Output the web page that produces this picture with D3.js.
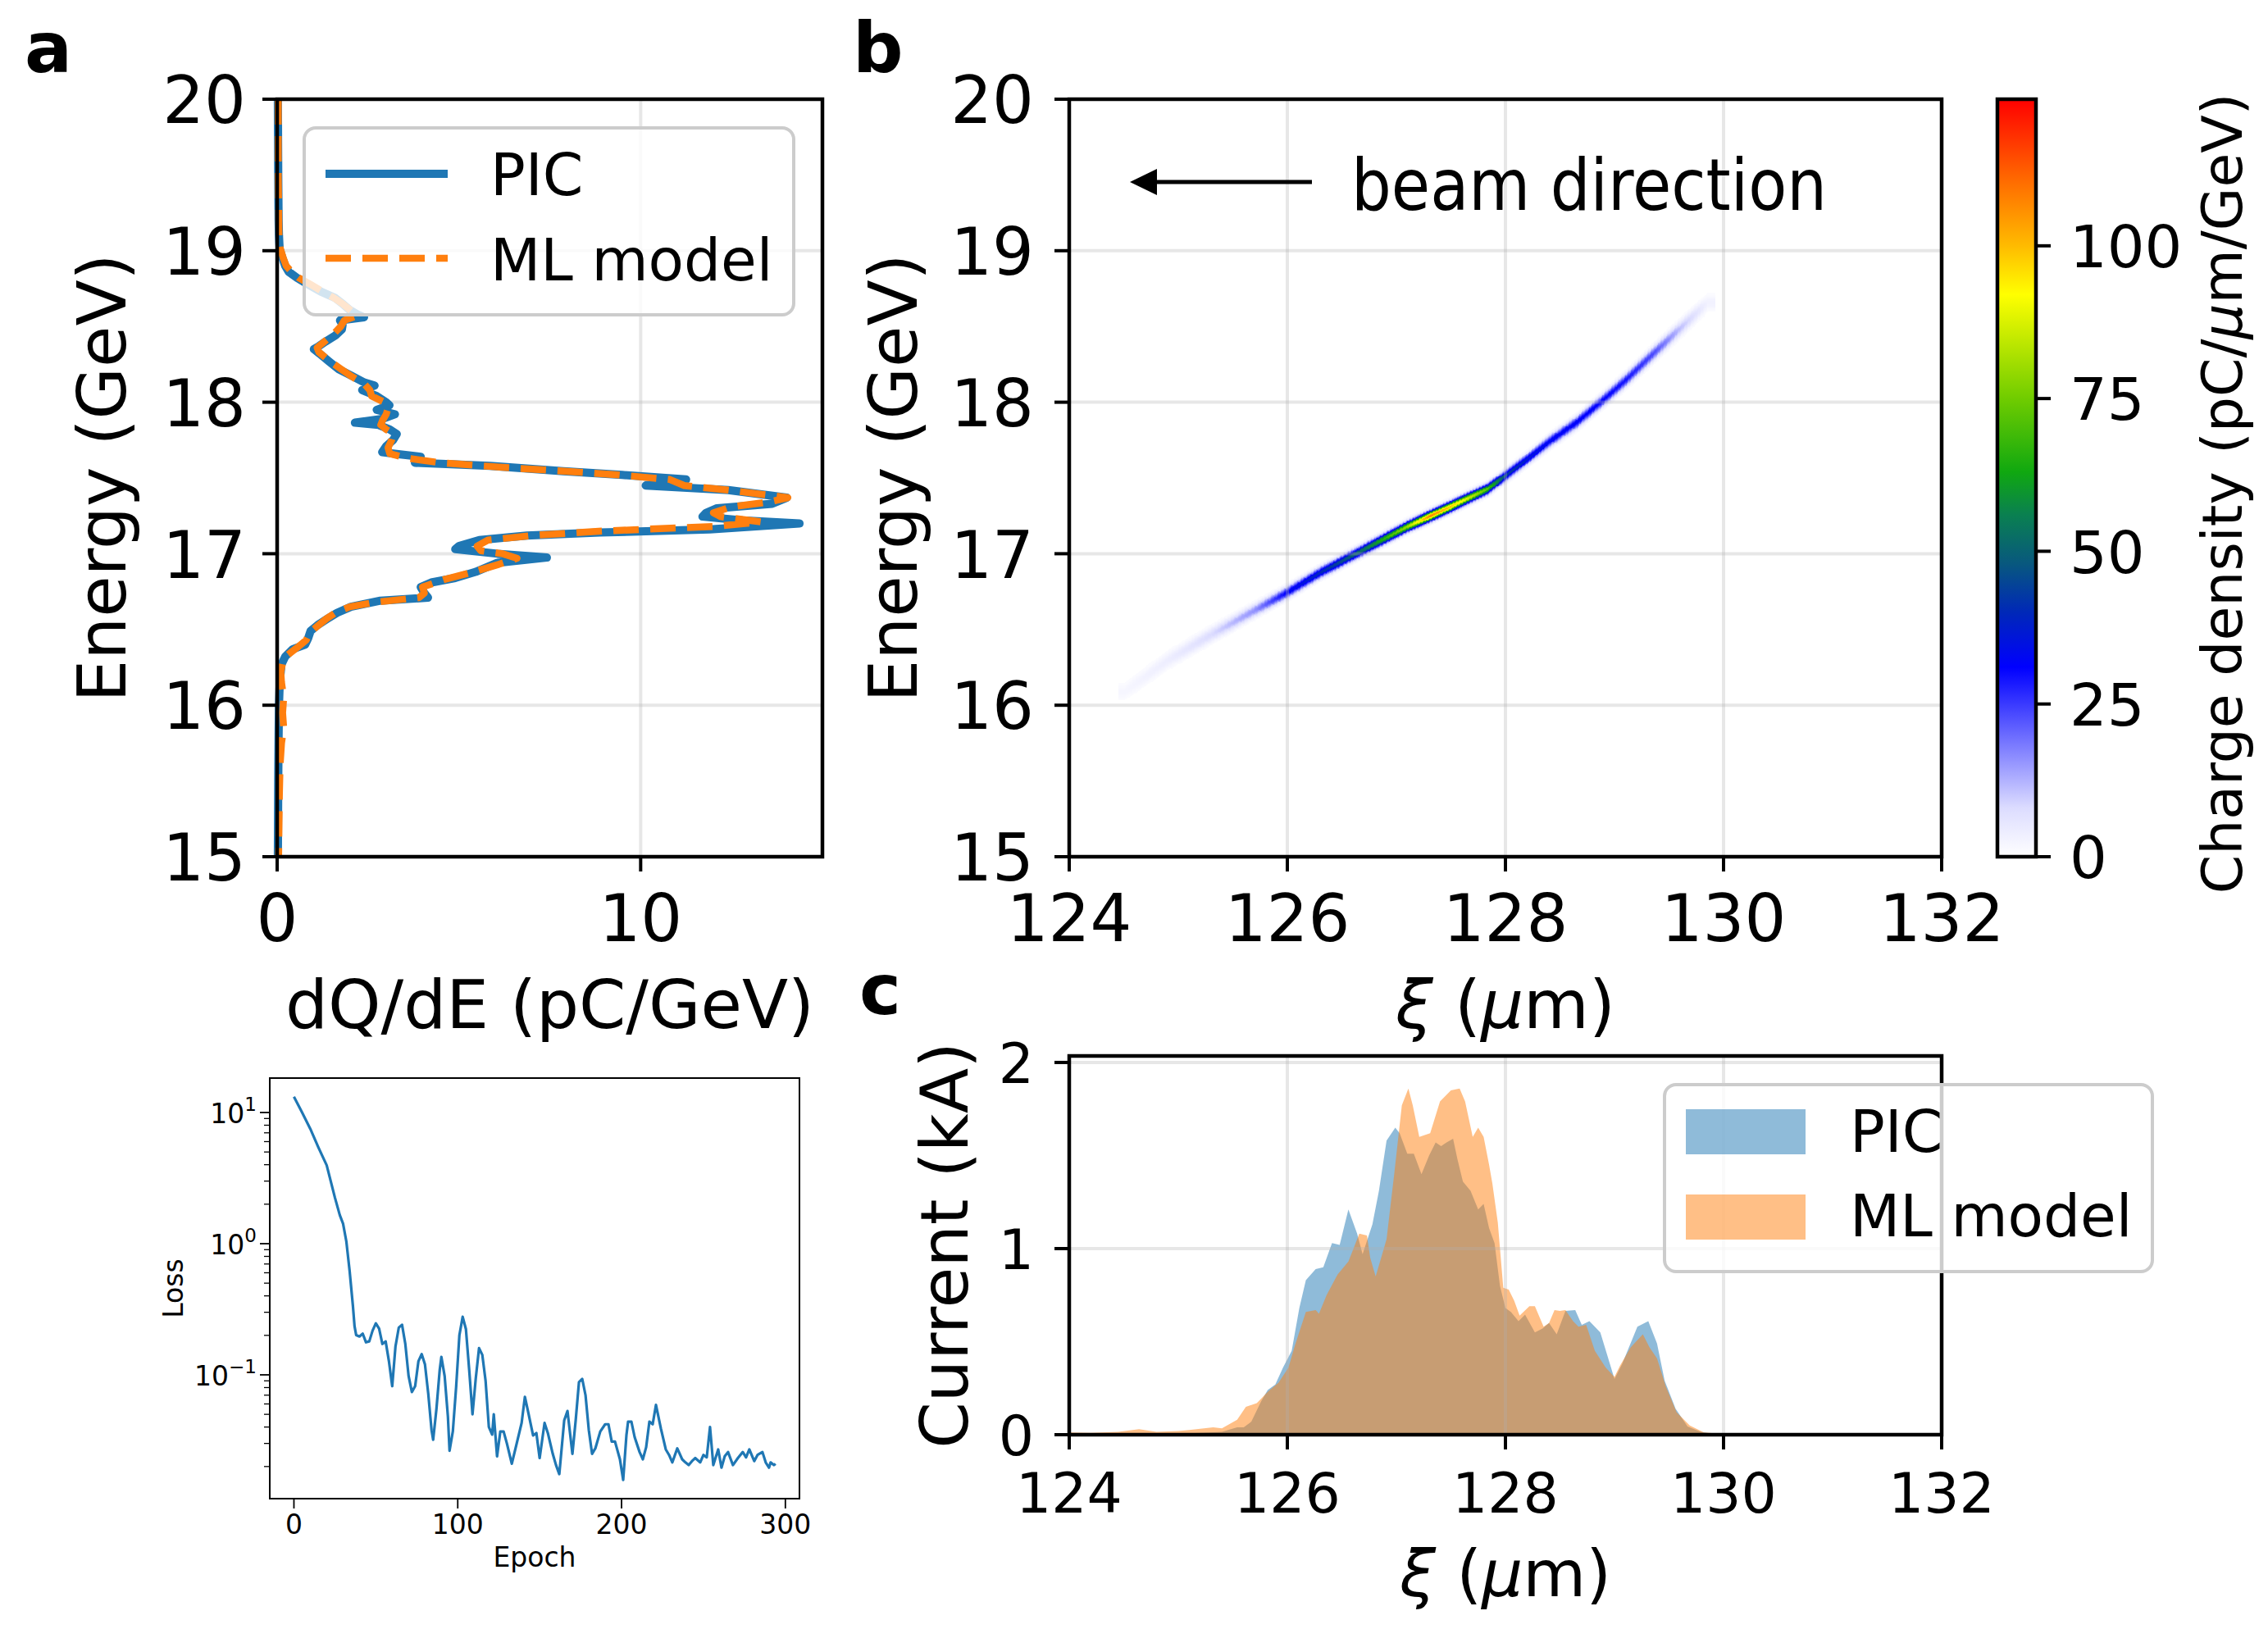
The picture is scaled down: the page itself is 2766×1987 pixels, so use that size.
<!DOCTYPE html>
<html><head><meta charset="utf-8">
<script src="https://cdn.jsdelivr.net/npm/d3@7"></script>
<style>body{margin:0;background:#fff;} text{font-family:"DejaVu Sans";}</style>
</head><body><svg id="chart" width="2766" height="1987"></svg>
<script>
// ---------------- DATA ----------------
// panel a : energy spectrum dQ/dE
const energyTicks = [15,16,17,18,19,20];
const dqdeTicks = [0,10];
const picEnergy = [20.0,19.5,19.2,19.1,19.05,19.01,18.95,18.9,18.86,18.82,18.78,18.73,18.69,18.65,18.61,18.58,18.56,18.54,18.51,18.48,18.44,18.40,18.37,18.35,18.32,18.27,18.22,18.17,18.13,18.11,18.08,18.04,18.00,17.98,17.95,17.92,17.89,17.865,17.85,17.82,17.79,17.75,17.71,17.67,17.66,17.64,17.61,17.60,17.58,17.545,17.52,17.49,17.47,17.45,17.42,17.37,17.33,17.30,17.27,17.245,17.22,17.20,17.16,17.14,17.12,17.09,17.05,17.03,17.00,16.975,16.94,16.88,16.84,16.81,16.78,16.74,16.71,16.69,16.65,16.61,16.57,16.53,16.49,16.44,16.40,16.37,16.32,16.27,16.20,16.14,16.0,15.8,15.5,15.0];
const picDqdE = [0.02,0.03,0.04,0.05,0.06,0.07,0.15,0.22,0.32,0.55,0.83,1.2,1.58,1.8,1.99,2.2,2.39,1.73,1.8,1.78,1.6,1.33,1.15,1.01,1.17,1.42,1.68,2.08,2.4,2.68,2.34,2.74,3.0,3.09,2.74,3.24,2.89,2.14,2.79,3.1,3.29,3.19,3.0,2.89,3.24,3.95,3.85,3.79,5.86,7.87,9.49,11.25,10.3,10.14,12.41,14.02,13.62,12.10,11.8,11.70,12.8,14.37,11.90,8.88,6.87,5.56,5.0,4.90,6.06,7.42,6.06,5.46,4.9,4.24,3.95,4.05,4.15,2.84,2.03,1.65,1.38,1.12,0.92,0.85,0.77,0.43,0.22,0.12,0.09,0.07,0.05,0.04,0.03,0.02];
const mlEnergy = [20.0,19.5,19.1,19.02,18.95,18.9,18.86,18.82,18.78,18.73,18.69,18.65,18.61,18.57,18.54,18.50,18.45,18.40,18.36,18.33,18.27,18.22,18.17,18.12,18.08,18.04,18.00,17.96,17.92,17.88,17.85,17.82,17.79,17.75,17.70,17.66,17.63,17.60,17.57,17.545,17.52,17.49,17.45,17.42,17.37,17.34,17.31,17.27,17.245,17.21,17.18,17.15,17.12,17.09,17.05,17.02,17.00,16.97,16.93,16.88,16.83,16.78,16.74,16.71,16.68,16.65,16.61,16.57,16.52,16.48,16.43,16.38,16.33,16.28,16.22,16.15,16.05,15.95,15.85,15.75,15.6,15.4,15.2,15.0];
const mlDqdE = [0.03,0.03,0.05,0.08,0.17,0.25,0.4,0.6,0.9,1.25,1.55,1.8,2.0,2.2,1.85,1.75,1.55,1.3,1.1,1.15,1.45,1.75,2.05,2.4,2.55,2.6,2.95,3.05,3.0,2.9,2.85,3.0,3.2,3.15,3.05,3.1,3.6,4.5,6.2,7.9,9.4,10.8,11.2,12.4,14.05,13.5,12.5,12.0,12.2,13.3,12.0,9.0,7.0,5.8,5.5,5.6,6.2,6.6,6.1,5.4,4.6,4.0,4.05,3.9,2.7,2.0,1.6,1.35,1.1,0.9,0.8,0.55,0.28,0.15,0.1,0.12,0.18,0.15,0.18,0.12,0.08,0.06,0.05,0.04];
const seriesNames = ["PIC","ML model"];

// panel b : longitudinal phase space (beam ridge)
const xiTicks = [124,126,128,130,132];
const beamXi = [124.5,124.9,125.3,125.7,126.0,126.3,126.67,127.09,127.3,127.51,127.83,128.0,128.2,128.41,128.65,128.88,129.1,129.36,129.6,129.85];
const beamEnergy = [16.09,16.30,16.47,16.63,16.75,16.88,17.02,17.18,17.25,17.32,17.43,17.52,17.63,17.75,17.87,18.01,18.15,18.33,18.49,18.66];
const beamPeakDensity = [2,4,8,16,32,40,52,80,108,98,72,45,36,33,32,31,29,23,11,3];
const beamSigmaE = [0.040,0.036,0.032,0.027,0.024,0.023,0.022,0.021,0.021,0.021,0.021,0.022,0.023,0.024,0.025,0.026,0.027,0.029,0.032,0.036];
const colorbarTicks = [0,25,50,75,100];
const cmapValues = [0,8,20,31,40,48,56,63,75,92,100,110,124];
const cmapColors = ["#ffffff","#dcdcff","#6a6aff","#0000ff","#0028b8","#08587e","#0a8050","#10a810","#70cc00","#ffff00","#ffbb00","#ff7000","#ff0000"];

// panel c : current profile
const currentTicks = [0,1,2];
const picXi = [124.0,124.5,125.0,125.2,125.40,125.54,125.60,125.67,125.76,125.82,125.89,125.96,126.04,126.11,126.17,126.26,126.33,126.41,126.48,126.56,126.64,126.69,126.78,126.84,126.91,126.99,127.03,127.10,127.16,127.23,127.30,127.36,127.41,127.46,127.52,127.56,127.61,127.68,127.75,127.80,127.85,127.90,127.95,128.00,128.05,128.12,128.18,128.27,128.34,128.40,128.47,128.55,128.64,128.70,128.77,128.87,129.00,129.07,129.21,129.31,129.39,129.46,129.56,129.67,129.79,129.92,130.2,131.0,132.0];
const picCurrent = [0.003,0.004,0.005,0.01,0.015,0.04,0.04,0.07,0.18,0.24,0.27,0.36,0.45,0.68,0.83,0.89,0.90,1.03,1.02,1.21,1.08,0.97,1.13,1.31,1.58,1.65,1.62,1.51,1.51,1.40,1.50,1.57,1.55,1.57,1.59,1.48,1.36,1.31,1.21,1.24,1.11,1.03,0.80,0.68,0.66,0.61,0.645,0.55,0.57,0.60,0.54,0.665,0.67,0.59,0.61,0.55,0.30,0.38,0.58,0.61,0.49,0.29,0.14,0.044,0.015,0.003,0.002,0.002,0.002];
const mlXi = [124.0,124.2,124.45,124.64,124.8,125.0,125.1,125.32,125.40,125.54,125.62,125.72,125.82,125.92,126.01,126.07,126.17,126.26,126.29,126.36,126.46,126.56,126.66,126.73,126.76,126.81,126.91,126.98,127.05,127.11,127.15,127.21,127.26,127.31,127.40,127.50,127.58,127.63,127.70,127.75,127.80,127.85,127.88,127.93,127.98,128.03,128.08,128.13,128.22,128.27,128.35,128.40,128.45,128.50,128.55,128.62,128.67,128.74,128.82,128.92,129.00,129.05,129.15,129.26,129.32,129.39,129.47,129.57,129.69,129.82,129.99,130.5,131.5,132.0];
const mlCurrent = [0.012,0.01,0.015,0.03,0.015,0.02,0.025,0.04,0.034,0.08,0.15,0.17,0.23,0.28,0.36,0.48,0.66,0.67,0.65,0.75,0.86,0.93,1.08,1.07,0.95,0.85,1.05,1.40,1.77,1.86,1.77,1.60,1.61,1.62,1.79,1.85,1.86,1.79,1.60,1.65,1.60,1.45,1.35,1.14,0.79,0.78,0.72,0.64,0.69,0.69,0.58,0.60,0.67,0.665,0.67,0.61,0.58,0.59,0.45,0.36,0.31,0.37,0.47,0.54,0.47,0.41,0.26,0.12,0.05,0.012,0.004,0.003,0.003,0.003];

// inset : training loss
const epochTicks = [0,100,200,300];
const lossTickExponents = [-1,0,1];
const lossEpoch = [0,5,10,15,20,25,28,30,32,34,
  36,37,38,40,42,44,46,48,50,52,
  54,56,58,60,62,64,66,68,70,72,
  74,76,78,80,82,84,85,87,89,90,
  92,94,95,97,99,101,103,105,107,109,
  111,113,115,117,119,121,122,124,126,128,
  130,133,136,139,141,143,146,148,150,153,
  155,158,160,162,165,167,170,172,174,176,
  178,180,182,184,187,190,192,194,196,199,
  201,203,204,206,208,211,213,215,217,219,
  221,224,227,229,231,234,237,239,241,243,
  245,248,250,252,254,256,259,261,263,265,
  268,271,274,276,278,281,283,286,288,290,
  291,293,294];
const lossValue = [13.2,10.0,7.5,5.4,3.96,2.25,1.65,1.42,1.04,0.62,
  0.336,0.235,0.201,0.196,0.206,0.177,0.18,0.217,0.247,0.225,
  0.172,0.18,0.127,0.082,0.165,0.229,0.241,0.172,0.098,0.074,
  0.082,0.127,0.144,0.12,0.072,0.038,0.032,0.055,0.109,0.137,
  0.098,0.048,0.0264,0.037,0.080,0.20,0.277,0.223,0.109,0.050,
  0.094,0.160,0.142,0.09,0.04,0.035,0.050,0.0239,0.037,0.037,
  0.030,0.021,0.030,0.043,0.068,0.052,0.0345,0.036,0.0232,0.043,
  0.036,0.025,0.0205,0.0175,0.045,0.053,0.025,0.045,0.088,0.093,
  0.07,0.038,0.025,0.0275,0.037,0.042,0.042,0.031,0.031,0.0227,
  0.0158,0.035,0.044,0.044,0.0335,0.0258,0.0227,0.028,0.044,0.042,
  0.059,0.039,0.027,0.0245,0.0215,0.0275,0.0227,0.0215,0.0205,0.022,
  0.0232,0.0215,0.0245,0.0235,0.040,0.0205,0.027,0.0196,0.024,0.0258,
  0.0205,0.0232,0.0258,0.0235,0.027,0.022,0.0245,0.0258,0.0215,0.0196,
  0.0215,0.0205,0.021];

// ---------------- LAYOUT / STYLE ----------------
const W = 2766, H = 1987;
const A  = {l:338, r:1003, t:121, b:1045};
const B  = {l:1304, r:2368, t:121, b:1045};
const CB = {l:2436, r:2483, t:121, b:1045};
const C  = {l:1304, r:2368, t:1288, b:1750};
const L  = {l:329, r:975, t:1315, b:1828};
const TICK_FS_AB = 80, TICK_FS_C = 68, CB_TICK_FS = 72;
const LABEL_FS_AB = 82, LABEL_FS_C = 79, LEG_FS = 71, SMALL_FS = 33;
const TICK_LEN = 18, TICK_W = 4, SPINE_W = 4.5;
const BLUE = "#1f77b4", ORANGE = "#ff7f0e";

const svg = d3.select("#chart");
svg.append("rect").attr("width", W).attr("height", H).attr("fill", "#fff");

// scales
const xA = d3.scaleLinear().domain([0, 15]).range([A.l, A.r]);
const yA = d3.scaleLinear().domain([15, 20]).range([A.b, A.t]);
const xB = d3.scaleLinear().domain([124, 132]).range([B.l, B.r]);
const yB = d3.scaleLinear().domain([15, 20]).range([B.b, B.t]);
const cbScale = d3.scaleLinear().domain([0, 124]).range([CB.b, CB.t]);
const cmap = d3.scaleLinear().domain(cmapValues).range(cmapColors).interpolate(d3.interpolateRgb).clamp(true);
const xC = d3.scaleLinear().domain([124, 132]).range([C.l, C.r]);
const yC = d3.scaleLinear().domain([0, 2.035]).range([C.b, C.t]);
const xL = d3.scaleLinear().domain([-14.75, 308.6]).range([L.l, L.r]);
const yL = d3.scaleLog().domain([0.01138, 18.3]).range([L.b, L.t]);

// helpers
function text(g, x, y, s, fs, anchor, extra) {
  const t = g.append("text").attr("x", x).attr("y", y).attr("font-size", fs)
    .attr("text-anchor", anchor || "start").attr("fill", "#000").text(s);
  if (extra) extra(t);
  return t;
}
function vText(g, x, y, fs) { // rotated label, baseline at x
  return g.append("text").attr("transform", `translate(${x},${y}) rotate(-90)`)
    .attr("font-size", fs).attr("text-anchor", "middle").attr("fill", "#000");
}
function grid(g, box, sx, sy, xt, yt) {
  const gg = g.append("g").attr("stroke", "#b0b0b0").attr("stroke-opacity", 0.3).attr("stroke-width", 4);
  xt.forEach(v => gg.append("line").attr("x1", sx(v)).attr("x2", sx(v)).attr("y1", box.t).attr("y2", box.b));
  yt.forEach(v => gg.append("line").attr("y1", sy(v)).attr("y2", sy(v)).attr("x1", box.l).attr("x2", box.r));
}
function frame(g, box, w) {
  g.append("rect").attr("x", box.l).attr("y", box.t).attr("width", box.r - box.l).attr("height", box.b - box.t)
    .attr("fill", "none").attr("stroke", "#000").attr("stroke-width", w);
}
function leftTicks(g, box, sy, ticks, fs, gap) {
  ticks.forEach(v => {
    const y = sy(v);
    g.append("line").attr("x1", box.l - TICK_LEN).attr("x2", box.l).attr("y1", y).attr("y2", y).attr("stroke", "#000").attr("stroke-width", TICK_W);
    text(g, box.l - gap, y + 0.364 * fs, String(v), fs, "end");
  });
}
function bottomTicks(g, box, sx, ticks, fs, baseline) {
  ticks.forEach(v => {
    const x = sx(v);
    g.append("line").attr("x1", x).attr("x2", x).attr("y1", box.b).attr("y2", box.b + TICK_LEN).attr("stroke", "#000").attr("stroke-width", TICK_W);
    text(g, x, baseline, String(v), fs, "middle");
  });
}
function xiLabel(g, x, y, fs) {
  const t = g.append("text").attr("x", x).attr("y", y).attr("font-size", fs).attr("text-anchor", "middle");
  t.append("tspan").attr("font-style", "italic").text("ξ");
  t.append("tspan").text(" (");
  t.append("tspan").attr("font-style", "italic").text("μ");
  t.append("tspan").text("m)");
}

// ---------------- PANEL A ----------------
const gA = svg.append("g");
grid(gA, A, xA, yA, dqdeTicks, energyTicks);
const lineA = d3.line().x(d => xA(d[0])).y(d => yA(d[1]));
gA.append("path").datum(d3.zip(picDqdE, picEnergy)).attr("d", lineA)
  .attr("fill", "none").attr("stroke", BLUE).attr("stroke-width", 10).attr("stroke-linejoin", "round");
gA.append("path").datum(d3.zip(mlDqdE, mlEnergy)).attr("d", lineA)
  .attr("fill", "none").attr("stroke", ORANGE).attr("stroke-width", 8.5).attr("stroke-dasharray", "31,14").attr("stroke-linejoin", "round");
frame(gA, A, SPINE_W);
leftTicks(gA, A, yA, energyTicks, TICK_FS_AB, 38);
bottomTicks(gA, A, xA, dqdeTicks, TICK_FS_AB, 1148);
text(gA, (A.l + A.r) / 2, 1254, "dQ/dE (pC/GeV)", LABEL_FS_AB, "middle");
vText(gA, 153, (A.t + A.b) / 2, LABEL_FS_AB).text("Energy (GeV)");
// legend a
const legA = gA.append("g");
legA.append("rect").attr("x", 371).attr("y", 156).attr("width", 597).attr("height", 228).attr("rx", 14)
  .attr("fill", "#fff").attr("fill-opacity", 0.8).attr("stroke", "#cccccc").attr("stroke-width", 4);
legA.append("line").attr("x1", 397).attr("x2", 546).attr("y1", 212).attr("y2", 212).attr("stroke", BLUE).attr("stroke-width", 10);
legA.append("line").attr("x1", 397).attr("x2", 546).attr("y1", 315).attr("y2", 315).attr("stroke", ORANGE).attr("stroke-width", 8.5).attr("stroke-dasharray", "31,14");
text(legA, 598, 238, seriesNames[0], LEG_FS);
text(legA, 598, 342, seriesNames[1], LEG_FS);

// ---------------- PANEL B ----------------
const gB = svg.append("g");
const cE = d3.scaleLinear().domain(beamXi).range(beamEnergy).clamp(true);
const cP = d3.scaleLinear().domain(beamXi).range(beamPeakDensity).clamp(true);
const cS = d3.scaleLinear().domain(beamXi).range(beamSigmaE).clamp(true);
const dXi = 0.01, dE = 0.005;
const cells = [];
for (let xi = 124.45; xi < 129.92; xi += dXi) {
  const c = cE(xi), p = cP(xi), s = cS(xi);
  for (let e = c - 4 * s; e <= c + 4 * s; e += dE) {
    const v = p * Math.exp(-((e + dE / 2 - c) ** 2) / (2 * s * s));
    if (v > 0.8) cells.push({xi, e, v});
  }
}
gB.append("g").attr("shape-rendering", "crispEdges").selectAll("rect").data(cells).join("rect")
  .attr("x", d => xB(d.xi)).attr("width", d => xB(d.xi + dXi) - xB(d.xi) + 0.6)
  .attr("y", d => yB(d.e + dE)).attr("height", d => yB(d.e) - yB(d.e + dE) + 0.6)
  .attr("fill", d => cmap(d.v));
grid(gB, B, xB, yB, xiTicks, energyTicks);
frame(gB, B, SPINE_W);
leftTicks(gB, B, yB, energyTicks, TICK_FS_AB, 43);
bottomTicks(gB, B, xB, xiTicks, TICK_FS_AB, 1148);
xiLabel(gB, (B.l + B.r) / 2, 1254, LABEL_FS_AB);
vText(gB, 1118, (B.t + B.b) / 2, LABEL_FS_AB).text("Energy (GeV)");
// arrow + annotation
gB.append("line").attr("x1", 1600).attr("x2", 1400).attr("y1", 222).attr("y2", 222).attr("stroke", "#000").attr("stroke-width", 5);
gB.append("path").attr("d", "M1378,222 L1411,206 L1411,238 Z").attr("fill", "#000");
text(gB, 1648, 256, "beam direction", 88, "start", t => t.attr("font-family", "Lato").attr("textLength", 580).attr("lengthAdjust", "spacingAndGlyphs"));

// colorbar
const defs = svg.append("defs");
const grad = defs.append("linearGradient").attr("id", "cbgrad").attr("x1", 0).attr("x2", 0).attr("y1", 1).attr("y2", 0);
cmapValues.forEach((v, i) => grad.append("stop").attr("offset", v / 124).attr("stop-color", cmapColors[i]));
gB.append("rect").attr("x", CB.l).attr("y", CB.t).attr("width", CB.r - CB.l).attr("height", CB.b - CB.t).attr("fill", "url(#cbgrad)");
frame(gB, CB, SPINE_W);
colorbarTicks.forEach(v => {
  const y = cbScale(v);
  gB.append("line").attr("x1", CB.r).attr("x2", CB.r + TICK_LEN).attr("y1", y).attr("y2", y).attr("stroke", "#000").attr("stroke-width", TICK_W);
  text(gB, 2524, y + 0.364 * CB_TICK_FS, String(v), CB_TICK_FS, "start");
});
const cbl = vText(gB, 2734, 602, 68);
cbl.append("tspan").text("Charge density (pC/");
cbl.append("tspan").attr("font-style", "italic").text("μ");
cbl.append("tspan").text("m/GeV)");

// ---------------- PANEL C ----------------
const gC = svg.append("g");
const areaC = d3.area().x(d => xC(d[0])).y0(yC(0)).y1(d => yC(d[1]));
gC.append("path").datum(d3.zip(picXi, picCurrent)).attr("d", areaC).attr("fill", BLUE).attr("fill-opacity", 0.5);
gC.append("path").datum(d3.zip(mlXi, mlCurrent)).attr("d", areaC).attr("fill", ORANGE).attr("fill-opacity", 0.5);
grid(gC, C, xC, yC, xiTicks, currentTicks);
frame(gC, C, SPINE_W);
leftTicks(gC, C, yC, currentTicks, TICK_FS_C, 43);
bottomTicks(gC, C, xC, xiTicks, TICK_FS_C, 1845);
xiLabel(gC, (C.l + C.r) / 2, 1947, LABEL_FS_C);
vText(gC, 1180, (C.t + C.b) / 2, LABEL_FS_C + 2).text("Current (kA)");
const legC = gC.append("g");
legC.append("rect").attr("x", 2030).attr("y", 1323).attr("width", 595).attr("height", 228).attr("rx", 14)
  .attr("fill", "#fff").attr("fill-opacity", 0.8).attr("stroke", "#cccccc").attr("stroke-width", 4);
legC.append("rect").attr("x", 2056).attr("y", 1353).attr("width", 146).attr("height", 55).attr("fill", BLUE).attr("fill-opacity", 0.5);
legC.append("rect").attr("x", 2056).attr("y", 1457).attr("width", 146).attr("height", 55).attr("fill", ORANGE).attr("fill-opacity", 0.5);
text(legC, 2256, 1405, seriesNames[0], LEG_FS);
text(legC, 2256, 1508, seriesNames[1], LEG_FS);

// ---------------- LOSS INSET ----------------
const gL = svg.append("g");
gL.append("path").datum(d3.zip(lossEpoch, lossValue))
  .attr("d", d3.line().x(d => xL(d[0])).y(d => yL(d[1])))
  .attr("fill", "none").attr("stroke", BLUE).attr("stroke-width", 3.2).attr("stroke-linejoin", "round");
frame(gL, L, 2);
epochTicks.forEach(v => {
  const x = xL(v);
  gL.append("line").attr("x1", x).attr("x2", x).attr("y1", L.b).attr("y2", L.b + 12).attr("stroke", "#000").attr("stroke-width", 1.8);
  text(gL, x, 1871, String(v), SMALL_FS, "middle");
});
for (let d = -2; d <= 1; d++) {
  for (let k = 2; k <= 9; k++) {
    const v = k * Math.pow(10, d);
    if (v < yL.domain()[0] || v > yL.domain()[1]) continue;
    gL.append("line").attr("x1", L.l - 7).attr("x2", L.l).attr("y1", yL(v)).attr("y2", yL(v)).attr("stroke", "#000").attr("stroke-width", 1.3);
  }
}
lossTickExponents.forEach(p => {
  const y = yL(Math.pow(10, p));
  gL.append("line").attr("x1", L.l - 12).attr("x2", L.l).attr("y1", y).attr("y2", y).attr("stroke", "#000").attr("stroke-width", 1.8);
  const t = gL.append("text").attr("x", 313).attr("y", y + 13).attr("font-size", SMALL_FS).attr("text-anchor", "end");
  t.append("tspan").text("10");
  t.append("tspan").attr("font-size", 23).attr("dy", -15).text(p < 0 ? "−" + Math.abs(p) : String(p));
});
text(gL, (L.l + L.r) / 2, 1911, "Epoch", SMALL_FS, "middle");
vText(gL, 223, (L.t + L.b) / 2, SMALL_FS).text("Loss");

// ---------------- PANEL LETTERS ----------------
const letterStyle = t => t.attr("font-weight", "bold");
text(svg, 30, 88, "a", 86, "start", letterStyle);
text(svg, 1040, 88, "b", 86, "start", letterStyle);
text(svg, 1048, 1237, "c", 86, "start", letterStyle);
</script>
</body></html>
